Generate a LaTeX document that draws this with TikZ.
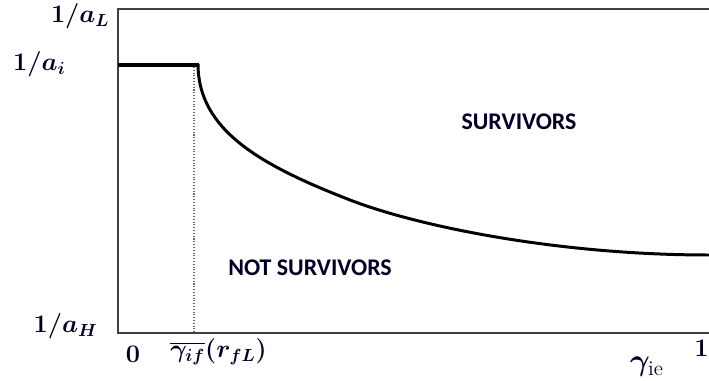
\documentclass[tikz,border=0pt]{standalone}
\usepackage{fontspec}
\usepackage{amsmath}
\usepackage{bm}
\newfontfamily\labelfont{Carlito}
\usetikzlibrary{positioning}

\begin{document}
\begin{tikzpicture}[
    x=0.02cm, y=-0.02cm,
    axis/.style={draw=black!75, line width=1.1pt},
    curve/.style={draw=black, line width=1.7pt},
    level/.style={draw=black, line width=2.8pt},
    guide/.style={draw=black!60, densely dotted, line width=0.6pt},
    tick/.style={font=\Large\boldmath, text=black!85!blue, inner sep=0pt},
    region/.style={font=\labelfont\bfseries\fontsize{13.6}{15}\selectfont, text=black!85!blue}
]
\useasboundingbox (0,0) rectangle (709,381);

% Axes box
\draw[axis] (709,9) -- (118,9) -- (118,333) -- (709,333);

% Threshold
\coordinate (gif) at (194,333);
\coordinate (gtop) at (194,67);
\draw[guide] (gtop) -- (gif);

% Flat part and curve
\coordinate (origin) at (118,65);
\coordinate (knee) at (199,65);
\coordinate (mid) at (350,200);
\coordinate (tail) at (709,255);
\draw[level] (origin) -- (knee);
\draw[curve] (198,64) .. controls (198,130) and (260,165) .. (mid)
    .. controls (420,227) and (560,255) .. (tail);

% Tick labels
\node[tick, anchor=east] (aL) at (110,16) {$1/a_L$};
\node[tick, anchor=east] (ai) at (66,64) {$1/a_i$};
\node[tick, anchor=east] (aH) at (98,326) {$1/a_H$};
\node[tick] (zero) at (133,354) {$0$};
\node[tick, anchor=west] (gbar) at (170,352) {$\overline{\gamma_{if}}(r_{fL})$};
\node[tick, anchor=east] (one) at (709,348) {$1$};
\node[tick, font=\LARGE\boldmath] (gie) at (647,367) {$\gamma_{\text{ie}}$};

% Regions
\node[region] (surv) at (519,122) {SURVIVORS};
\node[region] (notsurv) at (310,268) {NOT SURVIVORS};

\end{tikzpicture}
\end{document}
